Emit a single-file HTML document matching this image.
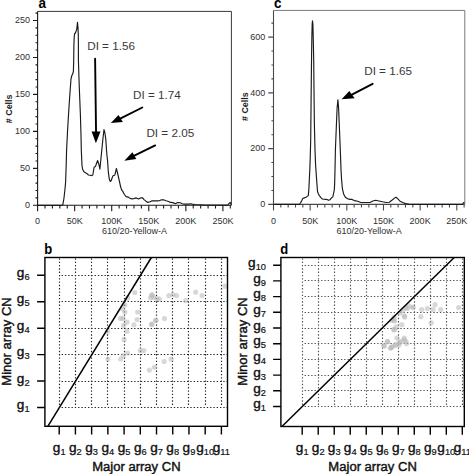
<!DOCTYPE html>
<html><head><meta charset="utf-8"><style>
html,body{margin:0;padding:0;background:#fff;}
body{width:469px;height:474px;overflow:hidden;}
svg{display:block;font-family:"Liberation Sans", sans-serif;}
</style></head><body>
<svg width="469" height="474" viewBox="0 0 469 474">
<rect width="469" height="474" fill="#fff"/>
<path d="M37.6 11.4H231.4V205.3" fill="none" stroke="#3a3a3a" stroke-width="1"/>
<path d="M37.6 11.4V205.3H231.4" fill="none" stroke="#1a1a1a" stroke-width="1.1"/>
<path d="M33 205.3H37.6M35.5 197.91H37.6M35.5 190.52H37.6M35.5 183.12H37.6M35.5 175.73H37.6M33 168.34H37.6M35.5 160.95H37.6M35.5 153.56H37.6M35.5 146.16H37.6M35.5 138.77H37.6M33 131.38H37.6M35.5 123.99H37.6M35.5 116.6H37.6M35.5 109.2H37.6M35.5 101.81H37.6M33 94.42H37.6M35.5 87.03H37.6M35.5 79.64H37.6M35.5 72.24H37.6M35.5 64.85H37.6M33 57.46H37.6M35.5 50.07H37.6M35.5 42.68H37.6M35.5 35.28H37.6M35.5 27.89H37.6M33 20.5H37.6M35.5 13.11H37.6M37.6 205.3V211.3M45.01 205.3V208.5M52.42 205.3V208.5M59.84 205.3V208.5M67.25 205.3V208.5M74.66 205.3V211.3M82.07 205.3V208.5M89.48 205.3V208.5M96.9 205.3V208.5M104.31 205.3V208.5M111.72 205.3V211.3M119.13 205.3V208.5M126.54 205.3V208.5M133.96 205.3V208.5M141.37 205.3V208.5M148.78 205.3V211.3M156.19 205.3V208.5M163.6 205.3V208.5M171.02 205.3V208.5M178.43 205.3V208.5M185.84 205.3V211.3M193.25 205.3V208.5M200.66 205.3V208.5M208.08 205.3V208.5M215.49 205.3V208.5M222.9 205.3V211.3M230.31 205.3V208.5" fill="none" stroke="#1a1a1a" stroke-width="1.1"/>
<text x="30" y="208.15" text-anchor="end" font-size="9" fill="#303030">0</text>
<text x="30" y="171.19" text-anchor="end" font-size="9" fill="#303030">50</text>
<text x="30" y="134.23" text-anchor="end" font-size="9" fill="#303030">100</text>
<text x="30" y="97.27" text-anchor="end" font-size="9" fill="#303030">150</text>
<text x="30" y="60.31" text-anchor="end" font-size="9" fill="#303030">200</text>
<text x="30" y="23.35" text-anchor="end" font-size="9" fill="#303030">250</text>
<text x="37.6" y="224.2" text-anchor="middle" font-size="9" fill="#303030">0</text>
<text x="74.66" y="224.2" text-anchor="middle" font-size="9" fill="#303030">50K</text>
<text x="111.72" y="224.2" text-anchor="middle" font-size="9" fill="#303030">100K</text>
<text x="148.78" y="224.2" text-anchor="middle" font-size="9" fill="#303030">150K</text>
<text x="185.84" y="224.2" text-anchor="middle" font-size="9" fill="#303030">200K</text>
<text x="222.9" y="224.2" text-anchor="middle" font-size="9" fill="#303030">250K</text>
<text x="134.5" y="234" text-anchor="middle" font-size="9" fill="#303030">610/20-Yellow-A</text>
<text transform="translate(11.5 108.85) rotate(-90)" text-anchor="middle" font-size="8.95" font-weight="bold" fill="#1a1a1a">#  Cells</text>
<text x="0" y="7.7" font-size="15" font-weight="bold" fill="#000" transform="translate(38.6 0) scale(0.9 1)">a</text>
<polyline points="37.6,205.3 62,205.3 62.8,204.8 64,198 65.1,188 65.6,182 66.2,165 66.6,150 67.5,132 68.5,115 69.6,98 70.5,85.6 71,79 71.7,76 72.6,74 73.4,71.5 73.7,60 73.9,45 74.2,37.8 74.5,34 75.4,33 76.7,29.6 77.5,22.3 78,27.7 78.3,35.3 78.4,45 78.4,60 79.2,85 80,105 80.4,115 81,135 81.3,150 82,165.5 82.6,169.2 83.9,171.7 85.5,172.8 87.1,173.7 88.4,175 90,175.2 91.6,175.6 92.8,175 94.1,167.3 95.4,166.6 96.5,163.5 97.6,160.5 98.8,164 99.9,169.2 100.8,160 101.8,150 103,138 104,129.6 104.9,133 105.8,139.2 106.5,150 107,156 107.5,160 108.4,172.7 109.4,179.6 110.3,181.5 111.2,180.5 112.2,177.7 113.2,175.5 114.8,175.2 115.6,172 116.4,168.5 117.3,172 118.1,175.5 118.9,179 119.8,183 120.6,186.8 121.8,190.2 123.1,191.9 124.4,194.5 126.1,196.6 128.2,197.1 129.5,197.9 131.7,198.9 133.8,198.6 136.3,197.9 138.5,198.9 140.6,197.9 142.7,197.9 144,199.6 145.7,200.9 147.9,202.4 150,201.8 151.7,200.9 153.8,200.9 157.3,200.9 159.3,200.7 161.4,199.8 163.5,199.8 166.1,200.8 168.7,201.5 170.4,202.4 172.9,202.6 175.5,203.7 177.6,202.6 180.2,202.8 182.3,203.7 184,204.1 189.1,204.1 190.4,203.7 192.1,204.1 195,204.5 200.8,204.8 205,205.1 227.7,205.1 229.4,203.1 230.3,202.6 231,204.6" fill="none" stroke="#1a1a1a" stroke-width="1.15" stroke-linejoin="round"/>
<text x="87.2" y="49.8" font-size="11.7" fill="#383838">DI = 1.56</text>
<text x="133.1" y="98.8" font-size="11.7" fill="#383838">DI = 1.74</text>
<text x="146.4" y="136.7" font-size="11.7" fill="#383838">DI = 2.05</text>
<path d="M95.1 58.8L96.05 131.6" stroke="#000" stroke-width="1.9" stroke-linecap="round"/>
<path d="M91.6 131.6L95.9 143.2L100.5 131.6Z" fill="#000"/>
<path d="M142.3 107.5L120.7 118.45" stroke="#000" stroke-width="1.9" stroke-linecap="round"/>
<path d="M118.5 115L110.8 123.1L122.9 121.9Z" fill="#000"/>
<path d="M155.2 145.4L134.35 155.65" stroke="#000" stroke-width="1.9" stroke-linecap="round"/>
<path d="M132.4 152.3L124.3 160.7L136.3 159Z" fill="#000"/>
<path d="M273.5 10.4H464.8V204.4" fill="none" stroke="#7a7a7a" stroke-width="1"/>
<path d="M273.5 10.4V204.4H464.8" fill="none" stroke="#4a4a4a" stroke-width="1.1"/>
<path d="M268.2 204.4H273.5M271.4 190.46H273.5M271.4 176.52H273.5M271.4 162.57H273.5M268.2 148.63H273.5M271.4 134.69H273.5M271.4 120.75H273.5M271.4 106.81H273.5M268.2 92.87H273.5M271.4 78.92H273.5M271.4 64.98H273.5M271.4 51.04H273.5M268.2 37.1H273.5M271.4 23.16H273.5M273.5 204.4V210.4M280.83 204.4V207.6M288.16 204.4V207.6M295.5 204.4V207.6M302.83 204.4V207.6M310.16 204.4V210.4M317.49 204.4V207.6M324.82 204.4V207.6M332.16 204.4V207.6M339.49 204.4V207.6M346.82 204.4V210.4M354.15 204.4V207.6M361.48 204.4V207.6M368.82 204.4V207.6M376.15 204.4V207.6M383.48 204.4V210.4M390.81 204.4V207.6M398.14 204.4V207.6M405.48 204.4V207.6M412.81 204.4V207.6M420.14 204.4V210.4M427.47 204.4V207.6M434.8 204.4V207.6M442.14 204.4V207.6M449.47 204.4V207.6M456.8 204.4V210.4M464.13 204.4V207.6" fill="none" stroke="#4a4a4a" stroke-width="1.1"/>
<text x="265.3" y="207.25" text-anchor="end" font-size="9" fill="#303030">0</text>
<text x="265.3" y="151.48" text-anchor="end" font-size="9" fill="#303030">200</text>
<text x="265.3" y="95.72" text-anchor="end" font-size="9" fill="#303030">400</text>
<text x="265.3" y="39.95" text-anchor="end" font-size="9" fill="#303030">600</text>
<text x="273.5" y="223.9" text-anchor="middle" font-size="9" fill="#303030">0</text>
<text x="310.16" y="223.9" text-anchor="middle" font-size="9" fill="#303030">50K</text>
<text x="346.82" y="223.9" text-anchor="middle" font-size="9" fill="#303030">100K</text>
<text x="383.48" y="223.9" text-anchor="middle" font-size="9" fill="#303030">150K</text>
<text x="420.14" y="223.9" text-anchor="middle" font-size="9" fill="#303030">200K</text>
<text x="456.8" y="223.9" text-anchor="middle" font-size="9" fill="#303030">250K</text>
<text x="369.1" y="233.7" text-anchor="middle" font-size="9" fill="#303030">610/20-Yellow-A</text>
<text transform="translate(247.6 106.65) rotate(-90)" text-anchor="middle" font-size="8.95" font-weight="bold" fill="#1a1a1a">#  Cells</text>
<text x="0" y="7.7" font-size="15" font-weight="bold" fill="#000" transform="translate(274 0) scale(0.9 1)">c</text>
<polyline points="273.5,204.3 299.6,204.3 300.6,202.8 301.8,200.6 302.8,198.6 303.8,198.1 305.8,197.3 307.2,196.4 308.3,195.6 308.9,188.8 309.3,180 309.8,170 310.3,155 310.7,140 311,110 311.3,80 311.6,55 311.9,35 312.2,24 312.5,20.9 312.9,24 313.3,40 313.7,60 314,90 314.4,125 315,150 315.6,165 316.5,178 317.5,191.3 318.4,194 319.4,195.6 320.9,197.6 322.4,199 324,199.2 325.8,199.4 327.4,199.6 328.4,200.3 329.9,199.8 331.1,198.3 332.8,196.9 333.3,194.7 334.3,190 334.6,185 335,170 335.4,150 335.8,140 336.4,125 337.1,108 337.9,99.8 338.6,108 339.3,125 339.9,140 340.5,155 341,169.5 341.6,180 342.4,188.7 343.6,193.9 344.7,196.1 345.8,197.6 347.6,198.8 348.8,199.1 350,199.4 351.8,199.4 353.2,200 354.7,200.6 357.7,201.3 360.9,202.5 369.9,202.5 371.5,201.7 372.8,201 375.8,200.3 378.8,201 382.5,201.8 386.3,202.5 389.3,202.2 392.2,200 394.5,198.1 396,197.3 398.2,199.1 399.7,201 402.7,202.5 405.7,203.6 408.7,204.1 412,204.3 462.5,204.3 463.7,202.5 464.4,203.2" fill="none" stroke="#1a1a1a" stroke-width="1.15" stroke-linejoin="round"/>
<text x="364.2" y="74.8" font-size="11.7" fill="#383838">DI = 1.65</text>
<path d="M372.6 83.8L351.95 94.7" stroke="#000" stroke-width="1.9" stroke-linecap="round"/>
<path d="M349.3 91.1L341.6 99.3L354.6 98.3Z" fill="#000"/>
<path d="M59.5 258.4V406M75.5 258.4V406M91.5 258.4V406M107.5 258.4V406M124.5 258.4V406M140.5 258.4V406M156.5 258.4V406M172.5 258.4V406M188.5 258.4V406M205.5 258.4V406M221.5 258.4V406M61.6 407.5H227.5M61.6 381.5H227.5M61.6 354.5H227.5M61.6 328.5H227.5M61.6 301.5H227.5M61.6 275.5H227.5" fill="none" stroke="#222" stroke-width="1.15" stroke-dasharray="1.35 1.95"/>
<circle cx="134.8" cy="292.5" r="2.6" fill="#b8b8b8" fill-opacity="0.55"/>
<circle cx="151.8" cy="294.7" r="2.6" fill="#b8b8b8" fill-opacity="0.55"/>
<circle cx="150.5" cy="297.9" r="2.6" fill="#b8b8b8" fill-opacity="0.55"/>
<circle cx="153.7" cy="297.3" r="2.6" fill="#b8b8b8" fill-opacity="0.55"/>
<circle cx="156.9" cy="298.5" r="2.6" fill="#b8b8b8" fill-opacity="0.55"/>
<circle cx="127.5" cy="297.9" r="2.6" fill="#b8b8b8" fill-opacity="0.55"/>
<circle cx="124.9" cy="304.9" r="2.6" fill="#b8b8b8" fill-opacity="0.55"/>
<circle cx="122.4" cy="308.8" r="2.6" fill="#b8b8b8" fill-opacity="0.55"/>
<circle cx="124.9" cy="312" r="2.6" fill="#b8b8b8" fill-opacity="0.55"/>
<circle cx="120.5" cy="318.4" r="2.6" fill="#b8b8b8" fill-opacity="0.55"/>
<circle cx="123" cy="318.4" r="2.6" fill="#b8b8b8" fill-opacity="0.55"/>
<circle cx="126.9" cy="322.2" r="2.6" fill="#b8b8b8" fill-opacity="0.55"/>
<circle cx="123.7" cy="325.4" r="2.6" fill="#b8b8b8" fill-opacity="0.55"/>
<circle cx="133.9" cy="324.8" r="2.6" fill="#b8b8b8" fill-opacity="0.55"/>
<circle cx="137.1" cy="319.6" r="2.6" fill="#b8b8b8" fill-opacity="0.55"/>
<circle cx="137.7" cy="312" r="2.6" fill="#b8b8b8" fill-opacity="0.55"/>
<circle cx="151.8" cy="324.1" r="2.6" fill="#b8b8b8" fill-opacity="0.55"/>
<circle cx="155.6" cy="320.3" r="2.6" fill="#b8b8b8" fill-opacity="0.55"/>
<circle cx="126.9" cy="331.2" r="2.6" fill="#b8b8b8" fill-opacity="0.55"/>
<circle cx="107.7" cy="331.2" r="2.6" fill="#b8b8b8" fill-opacity="0.55"/>
<circle cx="152" cy="295.6" r="2.6" fill="#b8b8b8" fill-opacity="0.55"/>
<circle cx="159.4" cy="299" r="2.6" fill="#b8b8b8" fill-opacity="0.55"/>
<circle cx="168.8" cy="295.6" r="2.6" fill="#b8b8b8" fill-opacity="0.55"/>
<circle cx="173" cy="294.7" r="2.6" fill="#b8b8b8" fill-opacity="0.55"/>
<circle cx="176.5" cy="295.6" r="2.6" fill="#b8b8b8" fill-opacity="0.55"/>
<circle cx="185.8" cy="300.7" r="2.6" fill="#b8b8b8" fill-opacity="0.55"/>
<circle cx="195.7" cy="292.2" r="2.6" fill="#b8b8b8" fill-opacity="0.55"/>
<circle cx="202" cy="295.6" r="2.6" fill="#b8b8b8" fill-opacity="0.55"/>
<circle cx="225.1" cy="286.2" r="2.6" fill="#b8b8b8" fill-opacity="0.55"/>
<circle cx="156" cy="320.3" r="2.6" fill="#b8b8b8" fill-opacity="0.55"/>
<circle cx="164.5" cy="318.6" r="2.6" fill="#b8b8b8" fill-opacity="0.55"/>
<circle cx="151.7" cy="324.6" r="2.6" fill="#b8b8b8" fill-opacity="0.55"/>
<circle cx="124.1" cy="339.4" r="2.6" fill="#b8b8b8" fill-opacity="0.55"/>
<circle cx="127.5" cy="353" r="2.6" fill="#b8b8b8" fill-opacity="0.55"/>
<circle cx="123.3" cy="355.6" r="2.6" fill="#b8b8b8" fill-opacity="0.55"/>
<circle cx="120.7" cy="359" r="2.6" fill="#b8b8b8" fill-opacity="0.55"/>
<circle cx="107.9" cy="359" r="2.6" fill="#b8b8b8" fill-opacity="0.55"/>
<circle cx="143.8" cy="350.5" r="2.6" fill="#b8b8b8" fill-opacity="0.55"/>
<circle cx="140.3" cy="350.5" r="2.6" fill="#b8b8b8" fill-opacity="0.55"/>
<circle cx="164.2" cy="361.6" r="2.6" fill="#b8b8b8" fill-opacity="0.55"/>
<circle cx="154.5" cy="367.2" r="2.6" fill="#b8b8b8" fill-opacity="0.55"/>
<circle cx="149.4" cy="370.1" r="2.6" fill="#b8b8b8" fill-opacity="0.55"/>
<circle cx="171.1" cy="359.1" r="2.6" fill="#b8b8b8" fill-opacity="0.55"/>
<path d="M47.82 426.3L151.37 257.5" stroke="#000" stroke-width="1.5"/>
<rect x="44.9" y="257.5" width="182.6" height="168.8" fill="none" stroke="#000" stroke-width="1.4"/>
<path d="M59.2 426.3V434.5M75.42 426.3V434.5M91.64 426.3V434.5M107.86 426.3V434.5M124.08 426.3V434.5M140.3 426.3V434.5M156.52 426.3V434.5M172.74 426.3V434.5M188.96 426.3V434.5M205.18 426.3V434.5M221.4 426.3V434.5M37.1 407.5H44.9M37.1 381.06H44.9M37.1 354.62H44.9M37.1 328.18H44.9M37.1 301.74H44.9M37.1 275.3H44.9" fill="none" stroke="#000" stroke-width="1.4"/>
<text x="59.2" y="451.6" text-anchor="middle" font-size="13.6" fill="#111" stroke="#111" stroke-width="0.42">g<tspan font-size="9.3" dy="3" stroke-width="0.2">1</tspan></text>
<text x="75.42" y="451.6" text-anchor="middle" font-size="13.6" fill="#111" stroke="#111" stroke-width="0.42">g<tspan font-size="9.3" dy="3" stroke-width="0.2">2</tspan></text>
<text x="91.64" y="451.6" text-anchor="middle" font-size="13.6" fill="#111" stroke="#111" stroke-width="0.42">g<tspan font-size="9.3" dy="3" stroke-width="0.2">3</tspan></text>
<text x="107.86" y="451.6" text-anchor="middle" font-size="13.6" fill="#111" stroke="#111" stroke-width="0.42">g<tspan font-size="9.3" dy="3" stroke-width="0.2">4</tspan></text>
<text x="124.08" y="451.6" text-anchor="middle" font-size="13.6" fill="#111" stroke="#111" stroke-width="0.42">g<tspan font-size="9.3" dy="3" stroke-width="0.2">5</tspan></text>
<text x="140.3" y="451.6" text-anchor="middle" font-size="13.6" fill="#111" stroke="#111" stroke-width="0.42">g<tspan font-size="9.3" dy="3" stroke-width="0.2">6</tspan></text>
<text x="156.52" y="451.6" text-anchor="middle" font-size="13.6" fill="#111" stroke="#111" stroke-width="0.42">g<tspan font-size="9.3" dy="3" stroke-width="0.2">7</tspan></text>
<text x="172.74" y="451.6" text-anchor="middle" font-size="13.6" fill="#111" stroke="#111" stroke-width="0.42">g<tspan font-size="9.3" dy="3" stroke-width="0.2">8</tspan></text>
<text x="188.96" y="451.6" text-anchor="middle" font-size="13.6" fill="#111" stroke="#111" stroke-width="0.42">g<tspan font-size="9.3" dy="3" stroke-width="0.2">9</tspan></text>
<text x="205.18" y="451.6" text-anchor="middle" font-size="13.6" fill="#111" stroke="#111" stroke-width="0.42">g<tspan font-size="9.3" dy="3" stroke-width="0.2">10</tspan></text>
<text x="221.4" y="451.6" text-anchor="middle" font-size="13.6" fill="#111" stroke="#111" stroke-width="0.42">g<tspan font-size="9.3" dy="3" stroke-width="0.2">11</tspan></text>
<text x="29.6" y="409.2" text-anchor="end" font-size="13.6" fill="#111" stroke="#111" stroke-width="0.42">g<tspan font-size="9.3" dy="3" stroke-width="0.2">1</tspan></text>
<text x="29.6" y="382.76" text-anchor="end" font-size="13.6" fill="#111" stroke="#111" stroke-width="0.42">g<tspan font-size="9.3" dy="3" stroke-width="0.2">2</tspan></text>
<text x="29.6" y="356.32" text-anchor="end" font-size="13.6" fill="#111" stroke="#111" stroke-width="0.42">g<tspan font-size="9.3" dy="3" stroke-width="0.2">3</tspan></text>
<text x="29.6" y="329.88" text-anchor="end" font-size="13.6" fill="#111" stroke="#111" stroke-width="0.42">g<tspan font-size="9.3" dy="3" stroke-width="0.2">4</tspan></text>
<text x="29.6" y="303.44" text-anchor="end" font-size="13.6" fill="#111" stroke="#111" stroke-width="0.42">g<tspan font-size="9.3" dy="3" stroke-width="0.2">5</tspan></text>
<text x="29.6" y="277" text-anchor="end" font-size="13.6" fill="#111" stroke="#111" stroke-width="0.42">g<tspan font-size="9.3" dy="3" stroke-width="0.2">6</tspan></text>
<text x="136.4" y="470.7" text-anchor="middle" font-size="13.05" fill="#111" stroke="#111" stroke-width="0.42">Major array CN</text>
<text transform="translate(10.6 341.5) rotate(-90)" text-anchor="middle" font-size="13.05" fill="#111" stroke="#111" stroke-width="0.42">Minor array CN</text>
<text x="0" y="254.3" font-size="13.9" font-weight="bold" fill="#000" transform="translate(44.3 0) scale(0.94 1)">b</text>
<path d="M302.5 258.4V405M318.5 258.4V405M334.5 258.4V405M350.5 258.4V405M366.5 258.4V405M382.5 258.4V405M398.5 258.4V405M414.5 258.4V405M430.5 258.4V405M446.5 258.4V405M462.5 258.4V405M304.6 406.5H464.3M304.6 390.5H464.3M304.6 375.5H464.3M304.6 359.5H464.3M304.6 343.5H464.3M304.6 328.5H464.3M304.6 312.5H464.3M304.6 296.5H464.3M304.6 280.5H464.3M304.6 265.5H464.3" fill="none" stroke="#505050" stroke-width="1.15" stroke-dasharray="1.35 1.95"/>
<circle cx="408.5" cy="305.7" r="2.6" fill="#b8b8b8" fill-opacity="0.55"/>
<circle cx="413.2" cy="307.6" r="2.6" fill="#b8b8b8" fill-opacity="0.55"/>
<circle cx="407.5" cy="308.5" r="2.6" fill="#b8b8b8" fill-opacity="0.55"/>
<circle cx="421.7" cy="309.5" r="2.6" fill="#b8b8b8" fill-opacity="0.55"/>
<circle cx="427.4" cy="308.5" r="2.6" fill="#b8b8b8" fill-opacity="0.55"/>
<circle cx="435" cy="304.7" r="2.6" fill="#b8b8b8" fill-opacity="0.55"/>
<circle cx="433.1" cy="309.5" r="2.6" fill="#b8b8b8" fill-opacity="0.55"/>
<circle cx="440.7" cy="309.5" r="2.6" fill="#b8b8b8" fill-opacity="0.55"/>
<circle cx="458.7" cy="307.6" r="2.6" fill="#b8b8b8" fill-opacity="0.55"/>
<circle cx="404.7" cy="317.1" r="2.6" fill="#b8b8b8" fill-opacity="0.55"/>
<circle cx="420.8" cy="316.7" r="2.6" fill="#b8b8b8" fill-opacity="0.55"/>
<circle cx="393.7" cy="319.9" r="2.6" fill="#b8b8b8" fill-opacity="0.55"/>
<circle cx="401.8" cy="324.7" r="2.6" fill="#b8b8b8" fill-opacity="0.55"/>
<circle cx="431.2" cy="322.8" r="2.6" fill="#b8b8b8" fill-opacity="0.55"/>
<circle cx="394.2" cy="329.4" r="2.6" fill="#b8b8b8" fill-opacity="0.55"/>
<circle cx="387.6" cy="341.7" r="2.6" fill="#b8b8b8" fill-opacity="0.55"/>
<circle cx="391.4" cy="347.4" r="2.6" fill="#b8b8b8" fill-opacity="0.55"/>
<circle cx="399" cy="342.7" r="2.6" fill="#b8b8b8" fill-opacity="0.55"/>
<circle cx="403.7" cy="339.8" r="2.6" fill="#b8b8b8" fill-opacity="0.55"/>
<circle cx="406.6" cy="343.6" r="2.6" fill="#b8b8b8" fill-opacity="0.55"/>
<circle cx="395.2" cy="344.6" r="2.6" fill="#b8b8b8" fill-opacity="0.55"/>
<circle cx="383.8" cy="345.5" r="2.6" fill="#b8b8b8" fill-opacity="0.55"/>
<circle cx="405.8" cy="307.7" r="2.6" fill="#b8b8b8" fill-opacity="0.55"/>
<circle cx="412.4" cy="307" r="2.6" fill="#b8b8b8" fill-opacity="0.55"/>
<circle cx="402.8" cy="310.7" r="2.6" fill="#b8b8b8" fill-opacity="0.55"/>
<circle cx="399.9" cy="312.9" r="2.6" fill="#b8b8b8" fill-opacity="0.55"/>
<circle cx="404.3" cy="315.8" r="2.6" fill="#b8b8b8" fill-opacity="0.55"/>
<circle cx="394" cy="317.3" r="2.6" fill="#b8b8b8" fill-opacity="0.55"/>
<circle cx="391.8" cy="320.3" r="2.6" fill="#b8b8b8" fill-opacity="0.55"/>
<circle cx="394.7" cy="321" r="2.6" fill="#b8b8b8" fill-opacity="0.55"/>
<circle cx="396.2" cy="326.9" r="2.6" fill="#b8b8b8" fill-opacity="0.55"/>
<circle cx="394" cy="329.9" r="2.6" fill="#b8b8b8" fill-opacity="0.55"/>
<circle cx="396.9" cy="338" r="2.6" fill="#b8b8b8" fill-opacity="0.55"/>
<circle cx="404.3" cy="338" r="2.6" fill="#b8b8b8" fill-opacity="0.55"/>
<circle cx="405.8" cy="341" r="2.6" fill="#b8b8b8" fill-opacity="0.55"/>
<circle cx="387.3" cy="341.7" r="2.6" fill="#b8b8b8" fill-opacity="0.55"/>
<circle cx="400.6" cy="341.7" r="2.6" fill="#b8b8b8" fill-opacity="0.55"/>
<circle cx="391.8" cy="346.9" r="2.6" fill="#b8b8b8" fill-opacity="0.55"/>
<circle cx="395.5" cy="345.4" r="2.6" fill="#b8b8b8" fill-opacity="0.55"/>
<circle cx="399.1" cy="344.7" r="2.6" fill="#b8b8b8" fill-opacity="0.55"/>
<circle cx="384.4" cy="346.1" r="2.6" fill="#b8b8b8" fill-opacity="0.55"/>
<circle cx="390.3" cy="348.3" r="2.6" fill="#b8b8b8" fill-opacity="0.55"/>
<path d="M281.91 426.5L454.24 257.5" stroke="#000" stroke-width="1.5"/>
<rect x="280.9" y="257.5" width="183.4" height="169" fill="none" stroke="#000" stroke-width="1.4"/>
<path d="M302.2 426.5V434.7M318.21 426.5V434.7M334.22 426.5V434.7M350.23 426.5V434.7M366.24 426.5V434.7M382.25 426.5V434.7M398.26 426.5V434.7M414.27 426.5V434.7M430.28 426.5V434.7M446.29 426.5V434.7M462.3 426.5V434.7M273.1 406.5H280.9M273.1 390.8H280.9M273.1 375.1H280.9M273.1 359.4H280.9M273.1 343.7H280.9M273.1 328H280.9M273.1 312.3H280.9M273.1 296.6H280.9M273.1 280.9H280.9M273.1 265.2H280.9" fill="none" stroke="#000" stroke-width="1.4"/>
<text x="302.2" y="451.6" text-anchor="middle" font-size="13.6" fill="#111" stroke="#111" stroke-width="0.42">g<tspan font-size="9.3" dy="3" stroke-width="0.2">1</tspan></text>
<text x="318.21" y="451.6" text-anchor="middle" font-size="13.6" fill="#111" stroke="#111" stroke-width="0.42">g<tspan font-size="9.3" dy="3" stroke-width="0.2">2</tspan></text>
<text x="334.22" y="451.6" text-anchor="middle" font-size="13.6" fill="#111" stroke="#111" stroke-width="0.42">g<tspan font-size="9.3" dy="3" stroke-width="0.2">3</tspan></text>
<text x="350.23" y="451.6" text-anchor="middle" font-size="13.6" fill="#111" stroke="#111" stroke-width="0.42">g<tspan font-size="9.3" dy="3" stroke-width="0.2">4</tspan></text>
<text x="366.24" y="451.6" text-anchor="middle" font-size="13.6" fill="#111" stroke="#111" stroke-width="0.42">g<tspan font-size="9.3" dy="3" stroke-width="0.2">5</tspan></text>
<text x="382.25" y="451.6" text-anchor="middle" font-size="13.6" fill="#111" stroke="#111" stroke-width="0.42">g<tspan font-size="9.3" dy="3" stroke-width="0.2">6</tspan></text>
<text x="398.26" y="451.6" text-anchor="middle" font-size="13.6" fill="#111" stroke="#111" stroke-width="0.42">g<tspan font-size="9.3" dy="3" stroke-width="0.2">7</tspan></text>
<text x="414.27" y="451.6" text-anchor="middle" font-size="13.6" fill="#111" stroke="#111" stroke-width="0.42">g<tspan font-size="9.3" dy="3" stroke-width="0.2">8</tspan></text>
<text x="430.28" y="451.6" text-anchor="middle" font-size="13.6" fill="#111" stroke="#111" stroke-width="0.42">g<tspan font-size="9.3" dy="3" stroke-width="0.2">9</tspan></text>
<text x="446.29" y="451.6" text-anchor="middle" font-size="13.6" fill="#111" stroke="#111" stroke-width="0.42">g<tspan font-size="9.3" dy="3" stroke-width="0.2">10</tspan></text>
<text x="462.3" y="451.6" text-anchor="middle" font-size="13.6" fill="#111" stroke="#111" stroke-width="0.42">g<tspan font-size="9.3" dy="3" stroke-width="0.2">11</tspan></text>
<text x="266" y="408.2" text-anchor="end" font-size="13.6" fill="#111" stroke="#111" stroke-width="0.42">g<tspan font-size="9.3" dy="3" stroke-width="0.2">1</tspan></text>
<text x="266" y="392.5" text-anchor="end" font-size="13.6" fill="#111" stroke="#111" stroke-width="0.42">g<tspan font-size="9.3" dy="3" stroke-width="0.2">2</tspan></text>
<text x="266" y="376.8" text-anchor="end" font-size="13.6" fill="#111" stroke="#111" stroke-width="0.42">g<tspan font-size="9.3" dy="3" stroke-width="0.2">3</tspan></text>
<text x="266" y="361.1" text-anchor="end" font-size="13.6" fill="#111" stroke="#111" stroke-width="0.42">g<tspan font-size="9.3" dy="3" stroke-width="0.2">4</tspan></text>
<text x="266" y="345.4" text-anchor="end" font-size="13.6" fill="#111" stroke="#111" stroke-width="0.42">g<tspan font-size="9.3" dy="3" stroke-width="0.2">5</tspan></text>
<text x="266" y="329.7" text-anchor="end" font-size="13.6" fill="#111" stroke="#111" stroke-width="0.42">g<tspan font-size="9.3" dy="3" stroke-width="0.2">6</tspan></text>
<text x="266" y="314" text-anchor="end" font-size="13.6" fill="#111" stroke="#111" stroke-width="0.42">g<tspan font-size="9.3" dy="3" stroke-width="0.2">7</tspan></text>
<text x="266" y="298.3" text-anchor="end" font-size="13.6" fill="#111" stroke="#111" stroke-width="0.42">g<tspan font-size="9.3" dy="3" stroke-width="0.2">8</tspan></text>
<text x="266" y="282.6" text-anchor="end" font-size="13.6" fill="#111" stroke="#111" stroke-width="0.42">g<tspan font-size="9.3" dy="3" stroke-width="0.2">9</tspan></text>
<text x="266" y="266.9" text-anchor="end" font-size="13.6" fill="#111" stroke="#111" stroke-width="0.42">g<tspan font-size="9.3" dy="3" stroke-width="0.2">10</tspan></text>
<text x="372.6" y="470.7" text-anchor="middle" font-size="13.05" fill="#111" stroke="#111" stroke-width="0.42">Major array CN</text>
<text transform="translate(246.6 341.5) rotate(-90)" text-anchor="middle" font-size="13.05" fill="#111" stroke="#111" stroke-width="0.42">Minor array CN</text>
<text x="0" y="254.3" font-size="13.9" font-weight="bold" fill="#000" transform="translate(280.3 0) scale(0.94 1)">d</text>
</svg>
</body></html>
